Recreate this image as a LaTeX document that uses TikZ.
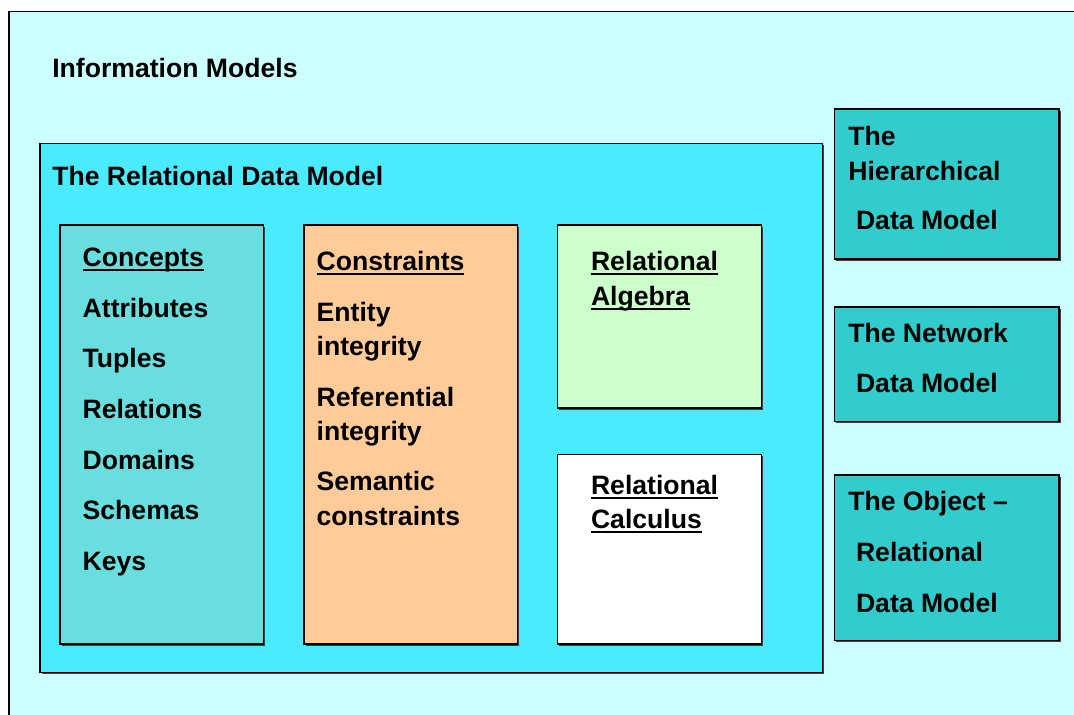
\documentclass[tikz,border=0pt]{standalone}
\usepackage{fontspec}
\setmainfont{Liberation Sans}
\definecolor{outerc}{RGB}{204,255,255}
\definecolor{innerc}{RGB}{74,235,255}
\definecolor{conceptc}{RGB}{104,222,222}
\definecolor{constrc}{RGB}{255,204,153}
\definecolor{algc}{RGB}{204,255,204}
\definecolor{sidec}{RGB}{51,204,204}
\tikzset{
  boxst/.style={draw=black, line width=1.5pt},
  shad/.style={fill=black!75},
  lbl/.style={anchor=base west, inner sep=0pt, outer sep=0pt, font=\fontsize{26.6}{32}\selectfont\bfseries},
  ul/.style={line width=2.2pt}
}
\begin{document}
\begin{tikzpicture}[x=1pt,y=-1pt]
\useasboundingbox (0,0) rectangle (1074,715);
\clip (0,0) rectangle (1074,715);
% outer box
\fill[white] (0,0) rectangle (1074,715);
\draw[boxst, fill=outerc, line width=1.2pt] (9,11.5) rectangle (1100,740);
% inner relational box
\fill[shad] (41.5,145) rectangle (824,674);
\draw[boxst, fill=innerc] (40,143.5) rectangle (822.5,672.5);
% columns
\fill[shad] (61.5,226.5) rectangle (265,645.5);
\draw[boxst, fill=conceptc] (60,225) rectangle (263.5,644);
\fill[shad] (305.5,226.5) rectangle (519,645.5);
\draw[boxst, fill=constrc] (304,225) rectangle (517.5,644);
\fill[shad] (559,226.5) rectangle (763,409.5);
\draw[boxst, fill=algc] (557.5,225) rectangle (761.5,408);
\fill[shad] (559,456) rectangle (763,645.5);
\draw[boxst, fill=white] (557.5,454.5) rectangle (761.5,644);
% side boxes
\fill[shad] (836,110.5) rectangle (1060.5,260.5);
\draw[boxst, fill=sidec] (834.5,109) rectangle (1059,259);
\fill[shad] (836,308.5) rectangle (1060.5,423);
\draw[boxst, fill=sidec] (834.5,307) rectangle (1059,421.5);
\fill[shad] (836,476.5) rectangle (1060.5,642);
\draw[boxst, fill=sidec] (834.5,475) rectangle (1059,640.5);
% titles
\node[lbl] (info) at (52.3,77.3) {Information Models};
\node[lbl] (rdm) at (52.3,185) {The Relational Data Model};
% concepts
\node[lbl] (cpt) at (82.7,266.7) {Concepts};
\node[lbl] (att) at (82.7,317) {Attributes};
\node[lbl] (tup) at (82.7,367.5) {Tuples};
\node[lbl] (rel) at (82.7,418.2) {Relations};
\node[lbl] (dom) at (82.7,469) {Domains};
\node[lbl] (sch) at (82.7,519.5) {Schemas};
\node[lbl] (key) at (82.7,570) {Keys};
% constraints
\node[lbl] (cst) at (316.7,270) {Constraints};
\node[lbl] (ent) at (316.7,321) {Entity};
\node[lbl] (ent2) at (316.7,355.5) {integrity};
\node[lbl] (ref) at (316.7,406) {Referential};
\node[lbl] (ref2) at (316.7,440.7) {integrity};
\node[lbl] (sem) at (316.7,490.7) {Semantic};
\node[lbl] (sem2) at (316.7,525.5) {constraints};
% algebra / calculus
\node[lbl] (ra1) at (591,270) {Relational};
\node[lbl] (ra2) at (591,305) {Algebra};
\node[lbl] (rc1) at (591,494) {Relational};
\node[lbl] (rc2) at (591,528.5) {Calculus};
% side texts
\node[lbl] (h1) at (848.3,145) {The};
\node[lbl] (h2) at (848.3,180) {Hierarchical};
\node[lbl] (h3) at (856,229.3) {Data Model};
\node[lbl] (n1) at (848.3,342.7) {The Network};
\node[lbl] (n2) at (856,392.7) {Data Model};
\node[lbl] (o1) at (848.3,510.7) {The Object –};
\node[lbl] (o2) at (856,561.7) {Relational};
\node[lbl] (o3) at (856,612.7) {Data Model};
% underlines
\foreach \n in {cpt,cst,ra1,ra2,rc1,rc2}{
  \draw[ul] ([yshift=-3.6pt]\n.base west) -- ([yshift=-3.6pt]\n.base east);
}
\end{tikzpicture}
\end{document}
